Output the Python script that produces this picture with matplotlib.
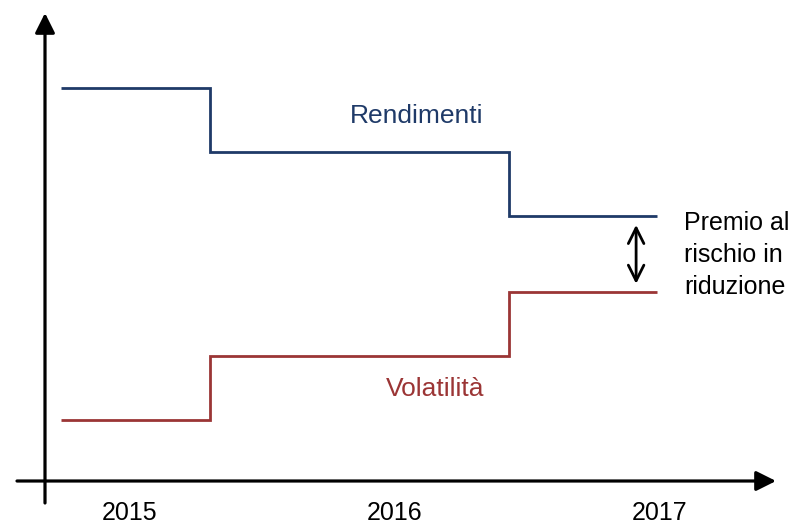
import matplotlib
matplotlib.use("Agg")
import matplotlib.pyplot as plt

plt.rcParams['font.family'] = ['Liberation Sans', 'DejaVu Sans']

# Data
years = [2015, 2016, 2017]
year_labels = ["2015", "2016", "2017"]
edges = [2014.74, 2015.30, 2016.43, 2016.99]
rendimenti = [6.14, 5.14, 4.14]
volatilita = [0.95, 1.95, 2.95]

blue = "#1F3A68"
red = "#9B3535"

W, H = 798, 526
fig = plt.figure(figsize=(W / 100, H / 100), dpi=100)
# axes: y-axis at x=45px, x-axis at y=481px, arrows tips at x=776, y=13
ax = fig.add_axes([45 / W, (H - 481) / H, (776 - 45) / W, (481 - 13) / H])
ax.set_xlim(2014.679, 2017.438)
ax.set_ylim(0, 7.31)
for s in ax.spines.values():
    s.set_visible(False)
ax.set_yticks([])
ax.set_xticks(years)
ax.set_xticklabels(year_labels, fontsize=18)
ax.tick_params(axis='x', length=0, pad=14.5)

# axes arrows
ax.annotate('', xy=(1, 0), xytext=(-28 / 731, 0), xycoords='axes fraction',
            textcoords='axes fraction',
            arrowprops=dict(arrowstyle='-|>', lw=2.3, color='black',
                            mutation_scale=30, shrinkA=0, shrinkB=0))
ax.annotate('', xy=(0, 1), xytext=(0, -22 / 468), xycoords='axes fraction',
            textcoords='axes fraction',
            arrowprops=dict(arrowstyle='-|>', lw=2.3, color='black',
                            mutation_scale=30, shrinkA=0, shrinkB=0))

# step lines
ax.stairs(rendimenti, edges, baseline=None, color=blue, lw=2.0)
ax.stairs(volatilita, edges, baseline=None, color=red, lw=2.0)

ax.text(2016.08, 5.70, "Rendimenti", color=blue, fontsize=19, ha='center', va='center')
ax.text(2016.15, 1.43, "Volatilità", color=red, fontsize=19, ha='center', va='center')

# double arrow for risk premium
ax.annotate('', xy=(2016.91, 4.00), xytext=(2016.91, 3.08),
            arrowprops=dict(arrowstyle='<->', lw=2.0, color='black',
                            mutation_scale=28, shrinkA=0, shrinkB=0))
ax.text(2017.09, 3.53, "Premio al\nrischio in\nriduzione", fontsize=18,
        ha='left', va='center', linespacing=1.4, color='black')

fig.savefig("out.png", dpi=100)
